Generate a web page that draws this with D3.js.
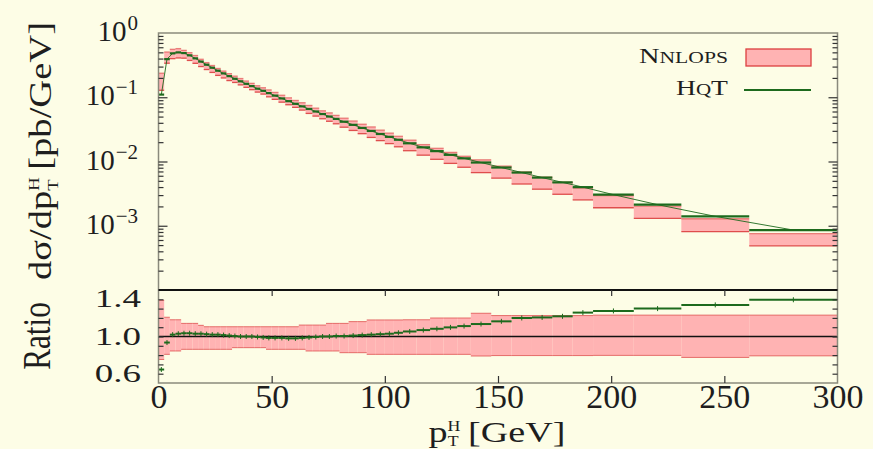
<!DOCTYPE html>
<meta charset="utf-8">
<style>
  body { margin: 0; background: #fdfde6; }
  svg { display: block; }
  text { font-family: "Liberation Serif", "DejaVu Serif", serif; fill: #1e1e1e; }
</style>
<svg width="873" height="449"></svg>
<script src="https://d3js.org/d3.v7.min.js"></script>
<script>
// bin edges in pT [GeV]
var binEdges = [0, 2.5, 5, 7.5, 10, 12.5, 15, 17.5, 20, 22.5, 25, 27.5, 30, 32.5, 35, 37.5, 40, 42.5, 45, 47.5, 50,
    53, 56, 59, 62, 65, 68, 71, 74, 77, 80, 84, 88, 92, 96, 100, 104, 108, 114, 120, 126, 132, 138,
    147, 156, 165, 174, 183, 192, 210, 231, 261, 300];

// HqT, dsigma/dpT [pb/GeV]
var hqt = [0.110, 0.392, 0.482, 0.499, 0.487, 0.449, 0.403, 0.359, 0.321, 0.288,
    0.259, 0.235, 0.213, 0.194, 0.177, 0.162, 0.149, 0.136, 0.126, 0.116,
    0.106, 0.0958, 0.0869, 0.0791, 0.0721, 0.0657, 0.0600, 0.0548, 0.0501, 0.0460,
    0.0416, 0.0372, 0.0333, 0.0299, 0.0268, 0.0242, 0.0218, 0.0192, 0.0166, 0.0145,
    0.0127, 0.0112, 0.00964, 0.00806, 0.00673, 0.00562, 0.00473, 0.00399, 0.00305, 0.00213,
    0.00140, 0.000857];

// HqT / NNLOPS
var hqtRatio = [0.645, 0.935, 1.02, 1.03, 1.035, 1.035, 1.03, 1.03, 1.025, 1.02,
    1.02, 1.015, 1.01, 1.005, 1.0, 1.0, 1.0, 0.995, 0.99, 0.985,
    0.985, 0.985, 0.98, 0.98, 0.985, 0.99, 0.995, 1.0, 1.0, 1.005,
    1.005, 1.01, 1.015, 1.02, 1.025, 1.03, 1.04, 1.054, 1.069, 1.083,
    1.098, 1.112, 1.134, 1.163, 1.199, 1.205, 1.217, 1.257, 1.275, 1.30,
    1.34, 1.395];

// NNLOPS scale band relative to its central value
var bandLo = [0.753, 0.808, 0.844, 0.844, 0.862, 0.862, 0.862, 0.862, 0.862, 0.862,
    0.862, 0.862, 0.862, 0.88, 0.88, 0.88, 0.88, 0.88, 0.88, 0.862,
    0.862, 0.862, 0.862, 0.862, 0.862, 0.844, 0.844, 0.844, 0.844, 0.844,
    0.826, 0.826, 0.826, 0.808, 0.808, 0.808, 0.808, 0.808, 0.808, 0.808,
    0.808, 0.808, 0.79, 0.795, 0.795, 0.795, 0.795, 0.795, 0.797, 0.797,
    0.775, 0.792];
var bandHi = [1.388, 1.207, 1.18, 1.18, 1.141, 1.141, 1.141, 1.12, 1.105, 1.105,
    1.105, 1.105, 1.105, 1.105, 1.105, 1.105, 1.105, 1.105, 1.105, 1.105,
    1.105, 1.105, 1.105, 1.105, 1.123, 1.123, 1.123, 1.123, 1.141, 1.141,
    1.141, 1.16, 1.16, 1.178, 1.178, 1.178, 1.178, 1.18, 1.18, 1.199,
    1.199, 1.199, 1.25, 1.225, 1.225, 1.225, 1.225, 1.225, 1.23, 1.23,
    1.23, 1.23];

var xTicks = [0, 50, 100, 150, 200, 250, 300];
var decadeExp = [0, -1, -2, -3];
var ratioLabels = ["1.4", "1.0", "0.6"];
var ratioTicks = [0.6, 0.7, 0.8, 0.9, 1.0, 1.1, 1.2, 1.3, 1.4];

var pink = "#ffb3b3", red = "#dc4040", green = "#1d6a1d";

var svg = d3.select("svg");
// note: "top" is a reserved window property, so use prefixed names
var pLeft = 158.5, pRight = 837.5, pTop = 33, pMid = 290, pBottom = 383;

var x = d3.scaleLinear().domain([0, 300]).range([pLeft, pRight]);
var y = d3.scaleLog().domain([1e-4, 1]).range([pMid, pTop]);
var yr = d3.scaleLinear().domain([0.5, 1.5]).range([pBottom, pMid]);

svg.append("rect").attr("width", 873).attr("height", 449).attr("fill", "#fdfde6");

var bins = hqt.map(function (v, i) {
    var c = v / hqtRatio[i];
    return { x0: binEdges[i], x1: binEdges[i + 1], hqt: v, r: hqtRatio[i], lo: bandLo[i], hi: bandHi[i], c: c };
});

// ---- top panel
var gt = svg.append("g");
gt.selectAll(".band").data(bins).enter().append("rect")
    .attr("x", d => x(d.x0))
    .attr("width", d => x(d.x1) - x(d.x0))
    .attr("y", d => y(d.c * d.hi))
    .attr("height", d => y(d.c * d.lo) - y(d.c * d.hi))
    .attr("fill", pink);
["lo", "hi"].forEach(function (k) {
    gt.selectAll(".edge-" + k).data(bins).enter().append("line")
        .attr("x1", d => x(d.x0)).attr("x2", d => x(d.x1))
        .attr("y1", d => y(d.c * d[k])).attr("y2", d => y(d.c * d[k]))
        .attr("stroke", red).attr("stroke-width", 1.3).attr("opacity", k == "lo" ? 0.9 : 0.6);
});
gt.append("path").datum(bins)
    .attr("fill", "none").attr("stroke", green).attr("stroke-width", 0.9)
    .attr("d", d3.line().x(d => x((d.x0 + d.x1) / 2)).y(d => y(d.hqt)));
gt.selectAll(".hqt").data(bins).enter().append("line")
    .attr("x1", d => x(d.x0)).attr("x2", d => x(d.x1))
    .attr("y1", d => y(d.hqt)).attr("y2", d => y(d.hqt))
    .attr("stroke", green).attr("stroke-width", 2.2);

// ---- ratio panel
var gr = svg.append("g");
gr.selectAll(".band").data(bins).enter().append("rect")
    .attr("x", d => x(d.x0))
    .attr("width", d => x(d.x1) - x(d.x0))
    .attr("y", d => yr(d.hi))
    .attr("height", d => yr(d.lo) - yr(d.hi))
    .attr("fill", pink);
["lo", "hi"].forEach(function (k) {
    gr.selectAll(".edge-" + k).data(bins).enter().append("line")
        .attr("x1", d => x(d.x0)).attr("x2", d => x(d.x1))
        .attr("y1", d => yr(d[k])).attr("y2", d => yr(d[k]))
        .attr("stroke", red).attr("stroke-width", 1).attr("opacity", 0.7);
});
gr.append("line").attr("x1", pLeft).attr("x2", pRight).attr("y1", yr(1)).attr("y2", yr(1))
    .attr("stroke", "#111").attr("stroke-width", 1.6);
gr.selectAll(".hqt").data(bins).enter().append("line")
    .attr("x1", d => x(d.x0)).attr("x2", d => x(d.x1))
    .attr("y1", d => yr(d.r)).attr("y2", d => yr(d.r))
    .attr("stroke", green).attr("stroke-width", 2);
gr.selectAll(".err").data(bins).enter().append("line")
    .attr("x1", d => x((d.x0 + d.x1) / 2)).attr("x2", d => x((d.x0 + d.x1) / 2))
    .attr("y1", d => yr(d.r) - 2.5).attr("y2", d => yr(d.r) + 2.5)
    .attr("stroke", green).attr("stroke-width", 1);

// ---- frames
svg.append("rect").attr("x", pLeft).attr("y", pTop).attr("width", pRight - pLeft).attr("height", pBottom - pTop)
    .attr("fill", "none").attr("stroke", "#8a8a7c").attr("stroke-width", 1.5);
svg.append("line").attr("x1", pLeft).attr("x2", pRight).attr("y1", pMid).attr("y2", pMid)
    .attr("stroke", "#111").attr("stroke-width", 2);

// ---- ticks
var minorVals = [];
[-4, -3, -2, -1].forEach(function (e) {
    for (var k = 2; k <= 9; k++) minorVals.push(k * Math.pow(10, e));
});
var majorVals = decadeExp.slice(1).map(e => Math.pow(10, e));

function tickStyle(g) {
    g.select(".domain").remove();
    g.selectAll(".tick line").attr("stroke", "#333").attr("stroke-width", 1.2);
}
svg.append("g").attr("transform", "translate(" + pLeft + ",0)")
    .call(d3.axisRight(y).tickValues(minorVals).tickSize(5).tickFormat("")).call(tickStyle);
svg.append("g").attr("transform", "translate(" + pLeft + ",0)")
    .call(d3.axisRight(y).tickValues(majorVals).tickSize(9).tickFormat("")).call(tickStyle);
svg.append("g").attr("transform", "translate(" + pRight + ",0)")
    .call(d3.axisLeft(y).tickValues(minorVals).tickSize(5).tickFormat("")).call(tickStyle);
svg.append("g").attr("transform", "translate(" + pRight + ",0)")
    .call(d3.axisLeft(y).tickValues(majorVals).tickSize(9).tickFormat("")).call(tickStyle);

svg.append("g").attr("transform", "translate(" + pLeft + ",0)")
    .call(d3.axisRight(yr).tickValues(ratioTicks).tickSize(5).tickFormat("")).call(tickStyle);
svg.append("g").attr("transform", "translate(" + pRight + ",0)")
    .call(d3.axisLeft(yr).tickValues(ratioTicks).tickSize(5).tickFormat("")).call(tickStyle);

var inner = xTicks.slice(1, -1);
svg.append("g").attr("transform", "translate(0," + pMid + ")")
    .call(d3.axisBottom(x).tickValues(inner).tickSize(6).tickFormat("")).call(tickStyle);
svg.append("g").attr("transform", "translate(0," + pBottom + ")")
    .call(d3.axisTop(x).tickValues(inner).tickSize(7).tickFormat("")).call(tickStyle);

// x tick labels
var xl = svg.append("g").attr("transform", "translate(0," + pBottom + ")")
    .call(d3.axisBottom(x).tickValues(xTicks).tickSize(0).tickPadding(1).tickFormat(d3.format("d")));
xl.select(".domain").remove();
xl.selectAll("text").attr("font-size", 34).attr("font-family", "Liberation Serif").attr("fill", "#1e1e1e");

// y labels (top)
decadeExp.forEach(function (e) {
    var t = svg.append("text").attr("x", 138).attr("y", y(Math.pow(10, e)) + 8)
        .attr("text-anchor", "end").attr("font-size", 29);
    t.append("tspan").text("10");
    t.append("tspan").attr("dy", -11).attr("dx", 1).attr("font-size", 21).text(e == 0 ? "0" : "\u2212" + (-e));
});

// ratio labels
ratioLabels.forEach(function (s) {
    svg.append("text").attr("transform", "translate(141," + (yr(+s) + 8) + ") scale(1,0.68)")
        .attr("text-anchor", "end").attr("font-size", 37).text(s);
});

// axis titles
var yt = svg.append("text").attr("transform", "translate(51,151) rotate(-90)")
    .attr("text-anchor", "middle").attr("font-size", 31)
    .attr("textLength", 258).attr("lengthAdjust", "spacingAndGlyphs");
yt.append("tspan").text("d\u03c3/dp");
yt.append("tspan").attr("font-size", 15).attr("dy", -12).text("H");
yt.append("tspan").attr("font-size", 15).attr("dx", -11).attr("dy", 19).text("T");
yt.append("tspan").attr("dy", -7).text(" [pb/GeV]");

svg.append("text").attr("transform", "translate(50,336) rotate(-90) scale(0.78,1)")
    .attr("text-anchor", "middle").attr("font-size", 40).text("Ratio");

var xt = svg.append("text").attr("x", 497).attr("y", 442)
    .attr("text-anchor", "middle").attr("font-size", 30)
    .attr("textLength", 137).attr("lengthAdjust", "spacingAndGlyphs");
xt.append("tspan").text("p");
xt.append("tspan").attr("font-size", 14).attr("dy", -11).text("H");
xt.append("tspan").attr("font-size", 14).attr("dx", -10).attr("dy", 15).text("T");
xt.append("tspan").attr("dy", -4).text(" [GeV]");

// ---- legend
var lg = svg.append("g");
var l1 = lg.append("text").attr("x", 728).attr("y", 63).attr("text-anchor", "end").attr("font-size", 21)
    .attr("textLength", 89).attr("lengthAdjust", "spacingAndGlyphs");
l1.append("tspan").text("N");
l1.append("tspan").attr("font-size", 16).text("NLOPS");
lg.append("rect").attr("x", 746).attr("y", 49).attr("width", 65).attr("height", 17)
    .attr("fill", pink).attr("stroke", red).attr("stroke-width", 1.3);
var l2 = lg.append("text").attr("x", 728).attr("y", 95).attr("text-anchor", "end").attr("font-size", 21)
    .attr("textLength", 52).attr("lengthAdjust", "spacingAndGlyphs");
l2.append("tspan").text("H");
l2.append("tspan").attr("font-size", 16).text("Q");
l2.append("tspan").text("T");
lg.append("line").attr("x1", 744).attr("x2", 811).attr("y1", 90).attr("y2", 90)
    .attr("stroke", green).attr("stroke-width", 2);
</script>
